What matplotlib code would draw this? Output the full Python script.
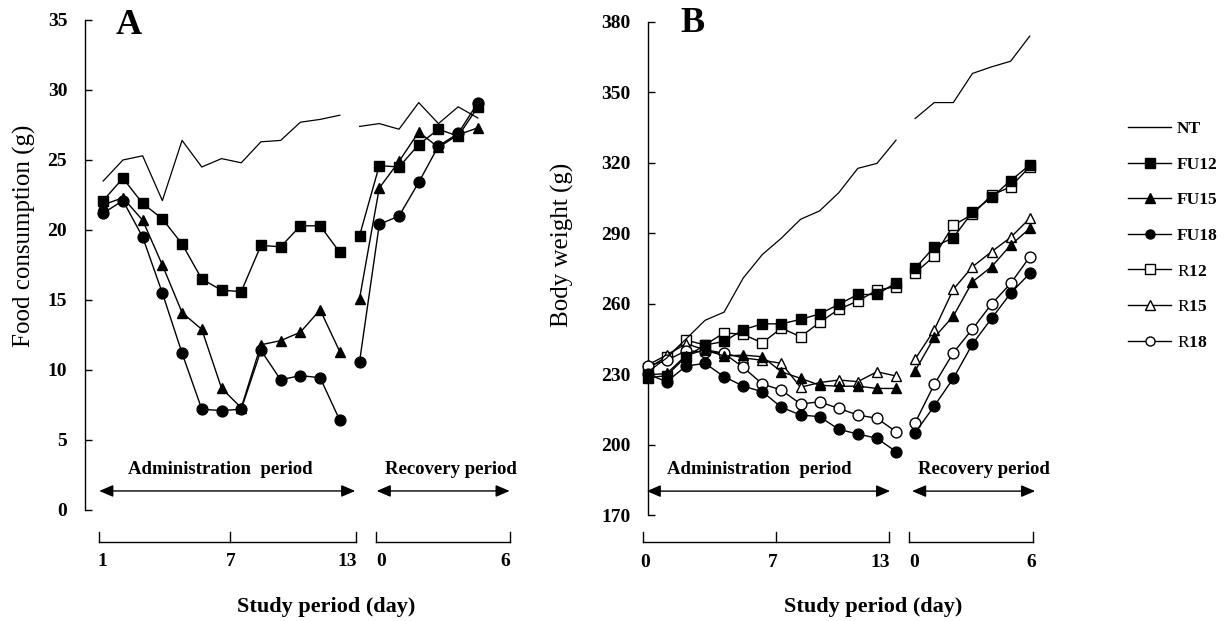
import matplotlib
matplotlib.use('Agg')
import matplotlib.pyplot as plt
from matplotlib.lines import Line2D

plt.rcParams['font.family'] = ['Liberation Serif', 'DejaVu Serif']
plt.rcParams['mathtext.fontset'] = 'custom'
plt.rcParams['mathtext.rm'] = 'Liberation Serif'
plt.rcParams['mathtext.bf'] = 'Liberation Serif:bold'

# ---------------- data ----------------
series_names = ['NT', 'FU12', 'FU15', 'FU18', 'R12', 'R15', 'R18']

# Panel A: food consumption (g); administration days 1..13, recovery days 0..6
A_NT_adm = [23.5, 25.0, 25.3, 22.1, 26.4, 24.5, 25.1, 24.8, 26.3, 26.4, 27.7, 27.9, 28.2]
A_NT_rec = [27.4, 27.6, 27.2, 29.1, 27.6, 28.8, 28.0]
A_FU12_adm = [22.1, 23.7, 21.9, 20.8, 19.0, 16.5, 15.7, 15.6, 18.9, 18.8, 20.3, 20.3, 18.4]
A_FU12_rec = [19.6, 24.6, 24.5, 26.1, 27.2, 26.7, 28.8]
A_FU15_adm = [21.8, 22.3, 20.7, 17.5, 14.1, 12.9, 8.7, 7.3, 11.8, 12.1, 12.7, 14.3, 11.3]
A_FU15_rec = [15.1, 23.0, 24.9, 27.0, 25.9, 26.8, 27.3]
A_FU18_adm = [21.2, 22.1, 19.5, 15.5, 11.2, 7.2, 7.1, 7.2, 11.4, 9.3, 9.6, 9.45, 6.4]
A_FU18_rec = [10.6, 20.4, 21.0, 23.4, 26.0, 26.9, 29.1]

# Panel B: body weight (g); administration days 0..13, recovery days 0..6
B_NT_adm = [231, 237, 245, 253, 256.5, 271, 281, 288, 296, 299.6, 307.3, 317.7, 319.8, 329.7]
B_NT_rec = [338.9, 345.7, 345.7, 358.1, 360.9, 363.3, 374.0]
B_FU12_adm = [228.5, 229.5, 237.5, 242.5, 244, 249, 251.5, 251.5, 253.4, 255.7, 259.8, 264, 264, 269]
B_FU12_rec = [275.1, 284.3, 288.2, 299.1, 305.3, 312.5, 319.1]
B_FU15_adm = [229.7, 230.4, 238, 240.5, 237.8, 238.2, 237.5, 231.1, 228.3, 225.4, 224.9, 225, 224, 224]
B_FU15_rec = [231.5, 245.7, 254.8, 269.4, 275.8, 285, 292.1]
B_FU18_adm = [230, 226.9, 233.5, 234.7, 229, 225, 222.6, 216, 212.7, 212, 206.6, 204.6, 202.8, 197.1]
B_FU18_rec = [205.2, 216.5, 228.3, 242.9, 253.8, 264.5, 273]
B_R12_adm = [232.6, 237.5, 244.6, 242.5, 247.7, 247, 243.4, 249.7, 246, 252.1, 257.7, 261.2, 265.9, 267.3]
B_R12_rec = [273.2, 280.3, 293.5, 298.1, 306.3, 309.8, 318.4]
B_R15_adm = [234, 238.2, 243, 240.5, 239, 237, 236, 234.7, 224.5, 226.5, 227.6, 226.9, 231.1, 229.3]
B_R15_rec = [236.5, 248.9, 266.2, 275.8, 282.2, 288.3, 296.4]
B_R18_adm = [233.5, 236, 240, 239.6, 238.9, 233, 225.9, 223.3, 217.4, 218.3, 215.5, 212.7, 211.3, 205.6]
B_R18_rec = [209.4, 225.7, 239.2, 249.3, 259.9, 268.7, 280]

A_yticks = [0, 5, 10, 15, 20, 25, 30, 35]
B_yticks = [170, 200, 230, 260, 290, 320, 350, 380]
A_day_labels = ['1', '7', '13', '0', '6']
B_day_labels = ['0', '7', '13', '0', '6']

# ---------------- styles ----------------
styles = {
    'NT':   dict(marker='None', mfc='k'),
    'FU12': dict(marker='s', mfc='k'),
    'FU15': dict(marker='^', mfc='k'),
    'FU18': dict(marker='o', mfc='k'),
    'R12':  dict(marker='s', mfc='white'),
    'R15':  dict(marker='^', mfc='white'),
    'R18':  dict(marker='o', mfc='white'),
}
MS = 7.8
LW = 1.0

W, H = 1224, 621
fig = plt.figure(figsize=(W / 100, H / 100), dpi=100)


def px(x, y):
    return x / W, 1 - y / H


# Axes placement (pixels)
A_left, A_right, A_top, A_bot = 84.6, 512.4, 20.0, 510.0
B_left, B_right, B_top, B_bot = 648.0, 1039.3, 22.0, 515.3
axA = fig.add_axes([A_left / W, 1 - A_bot / H, (A_right - A_left) / W, (A_bot - A_top) / H])
axB = fig.add_axes([B_left / W, 1 - B_bot / H, (B_right - B_left) / W, (B_bot - B_top) / H])
axA.set_xlim(-0.943, 20.75)
axA.set_ylim(0, 35)
axB.set_xlim(0.016, 20.5)
axB.set_ylim(170, 380)


def draw(ax, name, adm, rec, adm_start, rec_start):
    st = styles[name]
    lw = 0.9 if name == 'NT' else LW
    for vals, start in ((adm, adm_start), (rec, rec_start)):
        xs = list(range(start, start + len(vals)))
        ax.plot(xs, vals, color='k', lw=lw, marker=st['marker'], ms=MS,
                mfc=st['mfc'], mec='k', mew=1.0, clip_on=False,
                zorder=3 if name.startswith('R') else 4)


# Panel A
draw(axA, 'NT', A_NT_adm, A_NT_rec, 0, 13)
draw(axA, 'FU12', A_FU12_adm, A_FU12_rec, 0, 13)
draw(axA, 'FU15', A_FU15_adm, A_FU15_rec, 0, 13)
draw(axA, 'FU18', A_FU18_adm, A_FU18_rec, 0, 13)

# Panel B
draw(axB, 'R12', B_R12_adm, B_R12_rec, 0, 14)
draw(axB, 'R15', B_R15_adm, B_R15_rec, 0, 14)
draw(axB, 'R18', B_R18_adm, B_R18_rec, 0, 14)
draw(axB, 'NT', B_NT_adm, B_NT_rec, 0, 14)
draw(axB, 'FU12', B_FU12_adm, B_FU12_rec, 0, 14)
draw(axB, 'FU15', B_FU15_adm, B_FU15_rec, 0, 14)
draw(axB, 'FU18', B_FU18_adm, B_FU18_rec, 0, 14)

for ax, yt in ((axA, A_yticks), (axB, B_yticks)):
    for s in ('top', 'right', 'bottom'):
        ax.spines[s].set_visible(False)
    ax.spines['left'].set_linewidth(1.0)
    ax.set_xticks([])
    ax.set_yticks(yt)
    ax.set_yticklabels([str(v) for v in yt])
    ax.tick_params(axis='y', direction='in', length=5, width=1.0, pad=12.5, labelsize=14)
    for t in ax.get_yticklabels():
        t.set_fontweight('bold')
    ax.patch.set_alpha(0)


def period_axis(ax, txt_y, arr_y, adm_arrow, rec_arrow, adm_txt_x, rec_txt_x,
                br_y, br_top, adm_ticks, rec_ticks, lab_y, lab_pos, labels, study_xy):
    ax.text(adm_txt_x, txt_y, 'Administration  period', ha='center', va='center',
            fontsize=13.5, fontweight='bold', clip_on=False)
    ax.text(rec_txt_x, txt_y, 'Recovery period', ha='center', va='center',
            fontsize=13.5, fontweight='bold', clip_on=False)
    for a0, a1 in (adm_arrow, rec_arrow):
        ax.annotate('', xy=(a1, arr_y), xytext=(a0, arr_y), annotation_clip=False,
                    arrowprops=dict(arrowstyle='<|-|>,head_length=0.7,head_width=0.3',
                                    mutation_scale=12, lw=1.0, color='k',
                                    shrinkA=0, shrinkB=0))
    for ticks in (adm_ticks, rec_ticks):
        ax.plot([ticks[0], ticks[-1]], [br_y, br_y], color='k', lw=1.0, clip_on=False)
        for t in ticks:
            ax.plot([t, t], [br_y, br_top], color='k', lw=1.0, clip_on=False)
    for (x, ha), lab in zip(lab_pos, labels):
        ax.text(x, lab_y, lab, ha=ha, va='center', fontsize=14, fontweight='bold',
                clip_on=False)
    ax.text(study_xy[0], study_xy[1], 'Study period (day)', ha='center', va='center',
            fontsize=16, fontweight='bold', clip_on=False)


period_axis(axA, 2.86, 1.36, (-0.2, 12.78), (13.87, 20.61), 5.95, 17.63,
            -2.29, -1.57, (-0.23, 6.45, 12.82), (13.83, 20.61), -3.7,
            [(-0.31, 'left'), (6.45, 'center'), (12.87, 'right'), (13.87, 'left'), (20.63, 'right')],
            A_day_labels, (11.29, -6.9))

period_axis(axB, 189.3, 180.3, (-0.05, 12.69), (13.84, 20.28), 5.86, 17.61,
            158.8, 163.0, (-0.26, 6.72, 12.65), (13.7, 20.19), 150.1,
            [(-0.14, 'center'), (6.56, 'center'), (12.69, 'right'), (13.7, 'left'), (20.08, 'center')],
            B_day_labels, (11.8, 131))

# y labels and panel letters
fig.text(*px(24, 236), 'Food consumption (g)', rotation=90, ha='center', va='center', fontsize=18)
fig.text(*px(562.5, 245), 'Body weight (g)', rotation=90, ha='center', va='center', fontsize=18)
fig.text(*px(128.6, 25), 'A', ha='center', va='center', fontsize=26, fontweight='bold')
fig.text(*px(692.5, 24), 'B', ha='center', va='center', fontsize=26, fontweight='bold')

# legend
handles = []
labels = []
for name in series_names:
    st = styles[name]
    handles.append(Line2D([], [], color='k', lw=1.0, marker=st['marker'], ms=6.5,
                          mfc=st['mfc'], mec='k', mew=1.0))
    if name.startswith('R'):
        labels.append('R$\\mathbf{' + name[1:] + '}$')
    else:
        labels.append(name)
leg = fig.legend(handles, labels, loc='upper left', bbox_to_anchor=px(1128, 121),
                 frameon=False, borderpad=0, borderaxespad=0, handlelength=2.5,
                 handletextpad=0.3, labelspacing=1.12, fontsize=12.5)
for t in leg.get_texts():
    if t.get_text().startswith('R'):
        t.set_fontweight('normal')
    else:
        t.set_fontweight('bold')

fig.savefig('out.png', dpi=100)
